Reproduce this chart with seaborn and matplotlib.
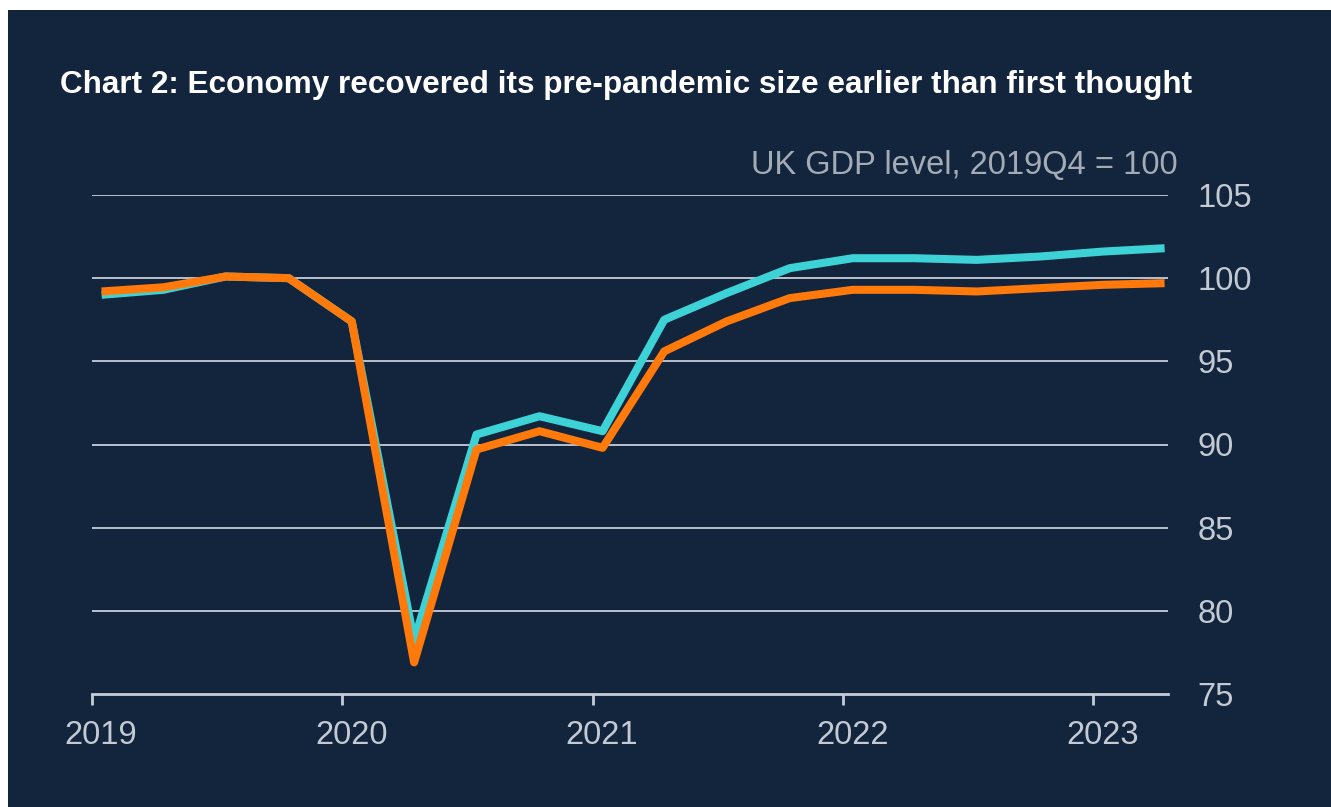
import pandas as pd
import seaborn as sns
import matplotlib.pyplot as plt
import matplotlib.dates as mdates
import matplotlib.transforms as mtransforms
from matplotlib.patches import Rectangle

# quarterly UK GDP index, 2019Q4 = 100
quarters = ['2019Q1', '2019Q2', '2019Q3', '2019Q4', '2020Q1', '2020Q2', '2020Q3', '2020Q4',
            '2021Q1', '2021Q2', '2021Q3', '2021Q4', '2022Q1', '2022Q2', '2022Q3', '2022Q4',
            '2023Q1', '2023Q2']
latest = [99.0, 99.3, 100.1, 100.0, 97.4, 78.2, 90.6, 91.7,
          90.8, 97.5, 99.1, 100.6, 101.2, 101.2, 101.1, 101.3,
          101.6, 101.8]
before = [99.2, 99.45, 100.1, 100.0, 97.4, 76.9, 89.7, 90.8,
          89.8, 95.6, 97.4, 98.8, 99.3, 99.3, 99.2, 99.4,
          99.6, 99.7]

NAVY = '#13243d'
CYAN = '#3dd3d6'
ORANGE = '#ff7a0a'
GRID = '#c5cdd8'
TICK = '#c3cad4'

# plot each quarter at mid first month
dates = pd.PeriodIndex(quarters, freq='Q').to_timestamp() + pd.Timedelta(days=14)
df = pd.DataFrame({'date': dates, 'Latest GDP data': latest, 'Before ONS revisions': before})
long = df.melt(id_vars='date', var_name='series', value_name='gdp')

sns.set_style('dark')
plt.rcParams['font.family'] = ['Liberation Sans', 'DejaVu Sans']

fig = plt.figure(figsize=(13.31, 8.07), dpi=100, facecolor='white')
fig.patches.append(Rectangle((8 / 1331, 0), 1, 1 - 10 / 807, transform=fig.transFigure,
                             facecolor=NAVY, edgecolor='none', zorder=-10))
ax = fig.add_axes([92 / 1331, 1 - 694 / 807, (1168 - 92) / 1331, (694 - 195) / 807])
ax.set_zorder(5)
ax.set_facecolor(NAVY)

for y in [80, 85, 90, 95, 100, 105]:
    ax.axhline(y, color=GRID, lw=1.3, zorder=1)

sns.lineplot(data=long, x='date', y='gdp', hue='series',
             hue_order=['Latest GDP data', 'Before ONS revisions'],
             palette=[CYAN, ORANGE], linewidth=5.8, legend=False, ax=ax, zorder=3)
for ln in ax.get_lines()[6:]:
    ln.set_solid_joinstyle('round')
    ln.set_solid_capstyle('butt')

ax.set_xlim(pd.Timestamp('2019-01-01'), dates[-1] + pd.Timedelta(days=5))
ax.set_ylim(75, 105)
ax.set_xlabel('')
ax.set_ylabel('')
ax.grid(False)

ax.xaxis.set_major_locator(mdates.YearLocator())
ax.xaxis.set_major_formatter(mdates.DateFormatter('%Y'))
ax.yaxis.tick_right()
ax.set_yticks([75, 80, 85, 90, 95, 100, 105])
ax.tick_params(axis='y', length=0, pad=21, labelsize=23.5, labelcolor=TICK)
ax.tick_params(axis='x', length=8, width=2, color=GRID, pad=11, labelsize=23.5,
               labelcolor=TICK, direction='out', bottom=True)
shift = mtransforms.ScaledTranslation(9 / 100, 0, fig.dpi_scale_trans)
for lab in ax.get_xticklabels():
    lab.set_transform(lab.get_transform() + shift)

for s in ['top', 'right', 'left']:
    ax.spines[s].set_visible(False)
ax.spines['bottom'].set_visible(True)
ax.spines['bottom'].set_color(GRID)
ax.spines['bottom'].set_linewidth(2)

fig.text(60 / 1331, 1 - 85 / 807, 'Chart 2: Economy recovered its pre-pandemic size earlier than first thought',
         color='white', fontsize=22.7, fontweight='bold', va='center', ha='left')
fig.text(1178 / 1331, 1 - 165 / 807, 'UK GDP level, 2019Q4 = 100', color='#a3abb7',
         fontsize=23.5, va='center', ha='right')
fig.text(511 / 1331, 1 - 232 / 807, 'Latest GDP data', color=CYAN, fontsize=23.5,
         va='center', ha='left')
fig.text(716 / 1331, 1 - 392 / 807, 'Before ONS revisions', color=ORANGE, fontsize=23.5,
         va='center', ha='left')

fig.savefig('out.png', dpi=100, facecolor='white')
